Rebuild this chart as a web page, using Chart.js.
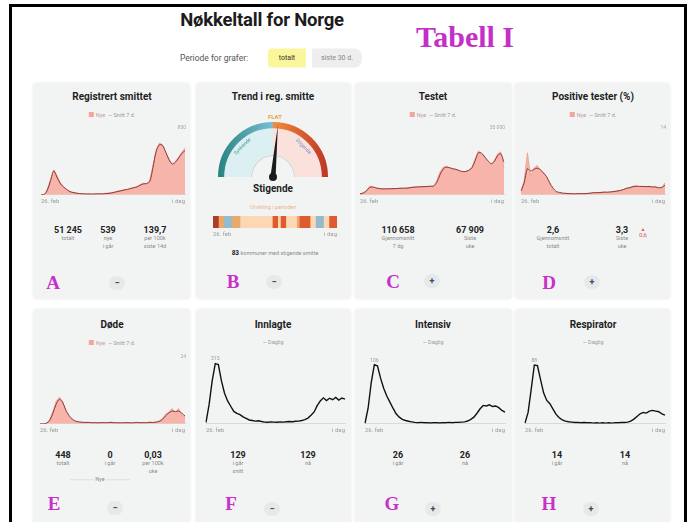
<!DOCTYPE html>
<html>
<head>
<meta charset="utf-8">
<script src="https://cdn.jsdelivr.net/npm/chart.js@4.4.1/dist/chart.umd.min.js"></script>
<style>
  body { margin: 0; width: 691px; height: 522px; overflow: hidden; background: #fff;
         font-family: Roboto, "Liberation Sans", sans-serif; position: relative; color: #222; }
  .frame { position: absolute; left: 9px; top: 4px; width: 672px; height: 540px;
           border: 3px solid #000; border-bottom: none; }
  .card { position: absolute; background: #f2f4f4; border-radius: 4px;
          box-shadow: 0 0 3px rgba(0,0,0,.09); }
  .t { position: absolute; transform: translate(-50%, -50%); white-space: nowrap; line-height: 1; }
  canvas { position: absolute; }
  .tittel { font-weight: 700; font-size: 10px; color: #1e1e1e; }
  .tall { font-weight: 700; font-size: 9px; color: #222; }
  .lbl { font-size: 5.5px; color: #8a8a8a; }
  .leg { font-size: 5.5px; color: #b9a3a3; }
  .bokstav { font-family: "Liberation Serif", serif; font-weight: 700; font-size: 19px; color: #c92fc9; }
  .knapp { position: absolute; width: 16px; height: 14px; border-radius: 7px; background: #e6e9ea;
           transform: translate(-50%, -50%); font-size: 9px; font-weight: 700; color: #444;
           text-align: center; line-height: 14px; }
</style>
</head>
<body>
<div class="frame"></div>

<div class="card" style="left:33px;top:83px;width:157px;height:216px"></div>
<div class="card" style="left:196px;top:83px;width:155px;height:216px"></div>
<div class="card" style="left:355px;top:83px;width:157px;height:216px"></div>
<div class="card" style="left:515px;top:83px;width:155px;height:216px"></div>
<div class="card" style="left:33px;top:309px;width:157px;height:220px"></div>
<div class="card" style="left:196px;top:309px;width:155px;height:220px"></div>
<div class="card" style="left:355px;top:309px;width:157px;height:220px"></div>
<div class="card" style="left:515px;top:309px;width:155px;height:220px"></div>

<canvas id="cA" width="150" height="86" style="left:38px;top:122px"></canvas>
<canvas id="cGauge" width="110" height="61" style="left:218px;top:122px"></canvas>
<canvas id="cStripe" width="130" height="24" style="left:210px;top:216px"></canvas>
<canvas id="cC" width="150" height="86" style="left:357px;top:122px"></canvas>
<canvas id="cD" width="150" height="86" style="left:518px;top:122px"></canvas>
<canvas id="cE" width="151" height="86" style="left:37px;top:351px"></canvas>
<canvas id="cF" width="145" height="86" style="left:203px;top:351px"></canvas>
<canvas id="cG" width="146" height="86" style="left:362px;top:351px"></canvas>
<canvas id="cH" width="146" height="86" style="left:522px;top:351px"></canvas>

<script>
// ---- data (weekly points, 26. feb -> i dag) ----
const uker = ['26.02','04.03','11.03','18.03','25.03','01.04','08.04','15.04','22.04','29.04',
              '06.05','13.05','20.05','27.05','03.06','10.06','17.06','24.06','01.07','08.07',
              '15.07','22.07','29.07','05.08','12.08','19.08','26.08','02.09','09.09','16.09',
              '23.09','30.09','07.10','14.10','21.10','28.10','04.11','11.11','18.11','25.11',
              '02.12','09.12','16.12','23.12','30.12','06.01'];
const forsteDato = '26. feb';
const sisteDato = 'i dag';

const smittetNye   = [0, 3, 70, 190, 300, 230, 150, 100, 60, 45, 25, 22, 14, 15, 8, 12, 9, 13, 10, 12,
                      16, 22, 25, 34, 45, 50, 62, 60, 80, 88, 98, 125, 140, 130, 175, 360, 540, 620, 600, 500,
                      430, 360, 400, 450, 510, 560];
const smittetSnitt = [0, 2, 57, 171, 286, 210, 137, 95, 65, 38, 28, 20, 15, 12, 10, 10, 8, 10, 12, 10,
                      14, 16, 22, 30, 40, 48, 57, 65, 75, 85, 95, 115, 130, 135, 160, 330, 520, 600, 590, 510,
                      420, 370, 390, 440, 495, 530];

const testetNye   = [600, 1000, 2200, 4500, 4200, 3300, 3200, 3000, 3200, 3100, 3300, 3200, 3400, 3500, 3400,
                     3600, 4000, 4200, 4100, 4300, 4200, 4400, 4500, 4600, 7500, 12000, 14500, 15000, 14000,
                     13500, 13300, 12500, 12000, 12300, 13000, 14500, 19000, 23000, 21500, 19500, 17500, 15800,
                     18000, 21500, 22500, 14000];
const testetSnitt = [500, 900, 2000, 3800, 4100, 3600, 3300, 3100, 3100, 3150, 3200, 3250, 3350, 3450, 3450,
                     3550, 3800, 4000, 4150, 4200, 4250, 4350, 4450, 4550, 6500, 10500, 13500, 14500, 14200,
                     13700, 13300, 12700, 12200, 12200, 12800, 14200, 18000, 22000, 21800, 19800, 17800, 16300,
                     17500, 20500, 21500, 17000];

const positivNye   = [0.8, 3, 8.8, 4.0, 5.5, 6.2, 5.2, 4.6, 3.8, 2.2, 1.0, 0.5, 0.4, 0.3, 0.3, 0.2, 0.2, 0.2,
                      0.3, 0.2, 0.2, 0.3, 0.4, 0.5, 0.4, 0.5, 0.6, 0.5, 0.6, 0.7, 0.8, 0.9, 1.1, 1.4, 1.5, 1.8,
                      1.9, 1.7, 1.8, 1.7, 1.8, 1.6, 1.7, 1.4, 1.5, 2.5];
const positivSnitt = [0.8, 2.5, 5.5, 5.0, 5.3, 5.6, 5.3, 4.6, 3.8, 2.5, 1.4, 0.7, 0.5, 0.35, 0.3, 0.25, 0.22,
                      0.22, 0.25, 0.24, 0.24, 0.3, 0.38, 0.45, 0.45, 0.5, 0.55, 0.55, 0.6, 0.68, 0.78, 0.9, 1.1,
                      1.35, 1.5, 1.7, 1.8, 1.75, 1.75, 1.72, 1.72, 1.65, 1.65, 1.5, 1.55, 2.0];

const dodeNye   = [0, 0, 0.2, 1.5, 4.5, 8, 9.6, 8, 4.5, 2.5, 1.5, 0.8, 0.6, 0.5, 0.4, 0.6, 0.3, 0.4, 0.3, 0.5,
                   0.3, 0.4, 0.7, 0.3, 0.3, 0.4, 0.3, 0.5, 0.3, 0.4, 0.6, 0.3, 0.4, 0.3, 0.7, 0.4, 0.6, 1.0,
                   1.8, 3.5, 4.2, 5.5, 3.8, 5.5, 3.2, 2.5];
const dodeSnitt = [0, 0, 0.2, 1.2, 3.8, 7, 8.8, 7.8, 5, 3, 1.7, 1, 0.7, 0.55, 0.5, 0.5, 0.4, 0.4, 0.35, 0.4,
                   0.4, 0.4, 0.45, 0.4, 0.35, 0.35, 0.35, 0.4, 0.35, 0.35, 0.45, 0.4, 0.4, 0.4, 0.5, 0.5, 0.6,
                   0.9, 1.6, 2.9, 3.9, 4.6, 4.4, 4.6, 3.8, 2.8];

const innlagte   = [8, 100, 225, 315, 310, 225, 160, 120, 92, 65, 55, 48, 36, 28, 20, 17, 14, 16, 12, 9,
                    8, 10, 9, 8, 10, 9, 11, 12, 11, 13, 14, 17, 22, 30, 45, 62, 95, 120, 136, 122,
                    134, 126, 138, 124, 135, 129];
const intensiv   = [1, 28, 74, 106, 104, 82, 64, 50, 39, 28, 18, 12, 8, 6, 4.5, 3.5, 2.5, 2, 2.5, 2,
                    2, 1.5, 2, 2, 1.5, 2, 2, 2.5, 2, 2.5, 2.5, 3, 3.5, 5, 8, 12, 19, 27, 33, 32,
                    34, 31, 32, 29, 24, 21];
const respirator = [1, 17, 52, 88, 87, 66, 46, 35, 30, 22, 14, 9, 6, 4, 3, 2.5, 2, 2, 1.5, 2,
                    1.5, 1.5, 1, 1.5, 1, 1.5, 1, 1.5, 1, 1.5, 1.5, 2, 2, 2.5, 4, 7, 11, 15, 17, 16,
                    19, 20, 19, 18, 15, 13];

// trend gauge + strip (weeks per coloured block, trend code per block)
const trendVerdi = 0.06;              // -1 synkende .. 1 stigende
const gaugeHalvdeler = [50, 50];
const trendLengder = [2, 2, 3, 3, 12, 2, 1, 2, 4, 1, 4, 2, 3, 2, 3];
const trendKoder   = [3, 1, -1, 1, 0, 2, 0, 2, 0, 1, 2, 0, -1, 0, 2];
const trendFarger  = { '-1': '#95bacd', '0': '#fbd8b3', '1': '#eba86b', '2': '#df5a2e', '3': '#ab3d29' };

// stat rows: [x, y, number, label lines]
const tallRader = [
  [68, 230, '51 245', ['totalt']], [108, 230, '539', ['nye', 'i går']], [155, 230, '139,7', ['per 100k', 'siste 14d']],
  [398, 230, '110 658', ['Gjennomsnitt', '7 dg']], [470, 230, '67 909', ['Siste', 'uke']],
  [553, 230, '2,6', ['Gjennomsnitt', 'totalt']], [622, 230, '3,3', ['Siste', 'uke']],
  [63, 455, '448', ['totalt']], [110, 455, '0', ['i går']], [153, 455, '0,03', ['per 100k', 'uke']],
  [238, 455, '129', ['i går', 'snitt']], [308, 455, '129', ['nå']],
  [398, 455, '26', ['i går']], [465, 455, '26', ['nå']],
  [557, 455, '14', ['i går']], [625, 455, '14', ['nå']]
];

// ---- text helper ----
function txt(x, y, s, cls, css) {
  const d = document.createElement('div');
  d.className = 't ' + (cls || '');
  d.style.left = x + 'px';
  d.style.top = y + 'px';
  if (css) d.style.cssText += css;
  d.innerHTML = s;
  document.body.appendChild(d);
  return d;
}
function knapp(x, y, s) {
  const d = document.createElement('div');
  d.className = 'knapp';
  d.style.left = x + 'px';
  d.style.top = y + 'px';
  d.textContent = s;
  document.body.appendChild(d);
}

// header
txt(262, 20, 'Nøkkeltall for Norge', '', 'font-weight:700;font-size:18.5px;color:#1c1c1c;letter-spacing:-0.2px');
txt(465, 37, 'Tabell I', 'bokstav', 'font-size:30px;color:#c42fc8');
txt(214, 58, 'Periode for grafer:', '', 'font-size:8.5px;color:#555');
txt(287, 58, 'totalt', '', 'font-size:7px;color:#333;background:#fbf59c;padding:6px 11px;border-radius:4px 0 0 4px');
txt(337, 58, 'siste 30 d.', '', 'font-size:7px;color:#888;background:#eeeeee;padding:6px 9px;border-radius:0 8px 8px 0');

// titles + legends
const legNye = '<span style="display:inline-block;width:5px;height:5px;background:#f4a49a;margin-right:2px;vertical-align:-0.5px"></span>Nye &nbsp;<span style="color:#999">— Snitt 7 d.</span>';
const legDag = '<span style="color:#999">— Daglig</span>';
[[112, 'Registrert smittet', legNye], [273, 'Trend i reg. smitte', null], [433, 'Testet', legNye],
 [593, 'Positive tester (%)', legNye]].forEach(([x, s, l]) => {
  txt(x, 97, s, 'tittel');
  if (l) txt(x, 115, l, 'leg');
});
[[112, 'Døde', legNye], [273, 'Innlagte', legDag], [433, 'Intensiv', legDag], [593, 'Respirator', legDag]]
  .forEach(([x, s, l]) => { txt(x, 325, s, 'tittel'); txt(x, 343, l, 'leg'); });

// stats
tallRader.forEach(([x, y, n, linjer]) => {
  txt(x, y, n, 'tall');
  linjer.forEach((l, i) => txt(x, y + 9 + i * 8, l, 'lbl'));
});
txt(643, 231, '<span style="font-size:5px">▲</span><br>0,6', '', 'font-size:6px;color:#e0574f;text-align:center;line-height:0.9');
txt(100, 480, '<span style="display:inline-block;width:24px;border-top:1px solid #ddd;vertical-align:1px"></span> Nye <span style="display:inline-block;width:24px;border-top:1px solid #ddd;vertical-align:1px"></span>', 'lbl');

// panel B texts
txt(275, 117, 'FLAT', '', 'font-size:6px;font-weight:700;color:#e3a43a');
txt(273, 189, 'Stigende', 'tittel');
txt(273, 208, 'Utvikling i perioden', '', 'font-size:5.5px;color:#e9b58c');
txt(275, 253, '<b style="color:#222;font-size:6.5px">83</b> kommuner med stigende smitte', 'lbl');

// letters + buttons
[['A', 53, 282], ['B', 233, 281], ['C', 393, 281], ['D', 549, 282],
 ['E', 54, 503], ['F', 231, 503], ['G', 392, 503], ['H', 549, 503]].forEach(([s, x, y]) => txt(x, y, s, 'bokstav'));
[[117, 283, '−'], [274, 282, '−'], [432, 281, '+'], [592, 282, '+'],
 [115, 508, '−'], [272, 509, '−'], [433, 509, '+'], [591, 509, '+']].forEach(([x, y, s]) => knapp(x, y, s));

// ---- charts ----
Chart.defaults.font.family = "Roboto, 'Liberation Sans', sans-serif";
Chart.defaults.animation = false;
Chart.defaults.responsive = false;
Chart.defaults.plugins.legend.display = false;
Chart.defaults.plugins.tooltip.enabled = false;

const xAkse = {
  grid: { display: false, drawTicks: false },
  border: { color: '#d9d9d9', dash: [2, 2] },
  ticks: {
    autoSkip: false, maxRotation: 0, align: 'inner', padding: 3,
    font: { size: 6 }, color: '#9a9a9a',
    callback: (v, i, ticks) => i === 0 ? forsteDato : (i === ticks.length - 1 ? sisteDato : null)
  }
};

function areaChart(id, nye, snitt, yMax) {
  new Chart(document.getElementById(id), {
    type: 'line',
    data: {
      labels: uker,
      datasets: [
        { data: snitt, borderColor: '#8e3a35', borderWidth: 1, pointRadius: 0, fill: false, tension: 0.3 },
        { data: nye, borderColor: '#f09a8f', backgroundColor: '#f6b4aa', borderWidth: 0.8,
          pointRadius: 0, fill: 'origin', tension: 0 }
      ]
    },
    options: {
      layout: { padding: { top: 6 } },
      scales: {
        x: xAkse,
        y: {
          position: 'right', min: 0, max: yMax,
          grid: { display: false, drawTicks: false }, border: { display: false },
          afterBuildTicks: ax => { ax.ticks = [{ value: yMax }]; },
          ticks: { mirror: true, padding: 1, font: { size: 5 }, color: '#a5a5a5',
                   callback: v => v.toLocaleString('nb-NO') }
        }
      }
    }
  });
}

const toppEtikett = {
  id: 'toppEtikett',
  afterDatasetsDraw(chart) {
    const ds = chart.data.datasets[0].data;
    const i = ds.indexOf(Math.max(...ds));
    const p = chart.getDatasetMeta(0).data[i];
    const ctx = chart.ctx;
    ctx.save();
    ctx.font = "5px Roboto, sans-serif";
    ctx.fillStyle = '#999';
    ctx.textAlign = 'center';
    ctx.textBaseline = 'bottom';
    ctx.fillText(String(Math.round(ds[i])), p.x, p.y - 2);
    ctx.restore();
  }
};

function lineChart(id, verdier, yMax) {
  new Chart(document.getElementById(id), {
    type: 'line',
    data: {
      labels: uker,
      datasets: [{ data: verdier, borderColor: '#111', borderWidth: 1.4, pointRadius: 0, fill: false, tension: 0 }]
    },
    options: {
      layout: { padding: { top: 6 } },
      scales: { x: xAkse, y: { display: false, min: 0, max: yMax } }
    },
    plugins: [toppEtikett]
  });
}

areaChart('cA', smittetNye, smittetSnitt, 800);
areaChart('cC', testetNye, testetSnitt, 35000);
areaChart('cD', positivNye, positivSnitt, 14);
areaChart('cE', dodeNye, dodeSnitt, 24);
lineChart('cF', innlagte, 350);
lineChart('cG', intensiv, 120);
lineChart('cH', respirator, 100);

// gauge
const naal = {
  id: 'naal',
  afterDatasetsDraw(chart) {
    const arc = chart.getDatasetMeta(0).data[0];
    const ctx = chart.ctx;
    const cx = arc.x, cy = arc.y, r = arc.outerRadius;
    const a = Math.PI + (trendVerdi + 1) / 2 * Math.PI;
    ctx.save();
    // arc labels
    ctx.font = "5px Roboto, sans-serif";
    ctx.textAlign = 'center';
    ctx.textBaseline = 'middle';
    [['Synkende', 1.25 * Math.PI, '#3f9a96'], ['Stigende', 1.75 * Math.PI, '#7a86c6']].forEach(([s, ang, c]) => {
      ctx.save();
      ctx.translate(cx + Math.cos(ang) * (r - 12), cy + Math.sin(ang) * (r - 12));
      ctx.rotate(ang + Math.PI / 2);
      ctx.fillStyle = c;
      ctx.fillText(s, 0, 0);
      ctx.restore();
    });
    // needle
    const tx = cx + Math.cos(a) * (r - 3), ty = cy + Math.sin(a) * (r - 3);
    const px = Math.cos(a + Math.PI / 2) * 2.6, py = Math.sin(a + Math.PI / 2) * 2.6;
    ctx.fillStyle = '#1b1b1b';
    ctx.beginPath();
    ctx.moveTo(tx, ty);
    ctx.lineTo(cx + px, cy + py);
    ctx.lineTo(cx - px, cy - py);
    ctx.closePath();
    ctx.fill();
    ctx.beginPath();
    ctx.arc(cx, cy, 4, 0, Math.PI * 2);
    ctx.fill();
    ctx.restore();
  }
};

function buegradient(c) {
  const ca = c.chart.chartArea;
  if (!ca) return '#999';
  const g = c.chart.ctx.createLinearGradient(ca.left, 0, ca.right, 0);
  g.addColorStop(0, '#27847f');
  g.addColorStop(0.49, '#78bdd3');
  g.addColorStop(0.51, '#f28a3c');
  g.addColorStop(1, '#bd3526');
  return g;
}

new Chart(document.getElementById('cGauge'), {
  type: 'doughnut',
  data: {
    labels: ['Synkende', 'Stigende'],
    datasets: [
      { data: gaugeHalvdeler, backgroundColor: buegradient, borderWidth: 0, weight: 6 },
      { data: gaugeHalvdeler, backgroundColor: ['#dcf0f4', '#fbe1dc'], borderWidth: 0, weight: 26 },
      { data: gaugeHalvdeler, backgroundColor: '#cfd3d3', borderWidth: 0, weight: 1 }
    ]
  },
  options: {
    rotation: -90, circumference: 180, cutout: '38%',
    layout: { padding: { bottom: 6 } }
  },
  plugins: [naal]
});

// strip
const antallUker = trendLengder.reduce((a, b) => a + b, 0);
new Chart(document.getElementById('cStripe'), {
  type: 'bar',
  data: {
    labels: [''],
    datasets: trendLengder.map((n, i) => ({
      data: [n], backgroundColor: trendFarger[trendKoder[i]], borderWidth: 0,
      barPercentage: 1, categoryPercentage: 1
    }))
  },
  options: {
    indexAxis: 'y',
    scales: {
      x: {
        stacked: true, min: 0, max: antallUker,
        grid: { display: false, drawTicks: false }, border: { display: false },
        afterBuildTicks: ax => { ax.ticks = [{ value: 0 }, { value: antallUker }]; },
        ticks: { font: { size: 6 }, color: '#9a9a9a', padding: 3, align: 'inner', maxRotation: 0,
                 callback: v => v === 0 ? forsteDato : sisteDato }
      },
      y: { stacked: true, display: false }
    }
  }
});
</script>
</body>
</html>
